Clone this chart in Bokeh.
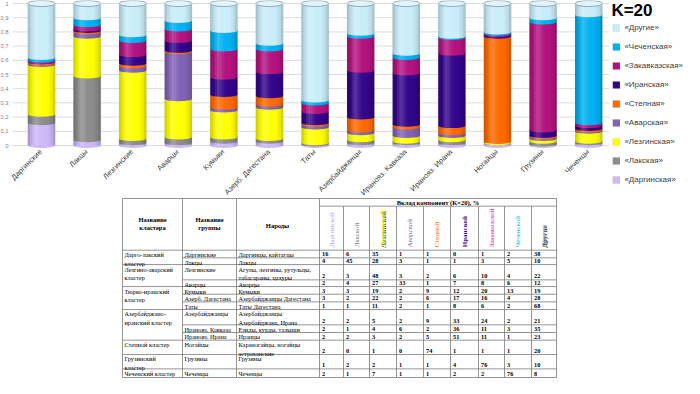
import math
from bokeh.plotting import figure
from bokeh.models import ColumnDataSource, Range1d, Legend, LegendItem
from bokeh.transform import stack, dodge
from bokeh.core.properties import value
from bokeh.embed import file_html
from bokeh.resources import INLINE

# ---------------- data ----------------
groups = ["Даргинские", "Лакцы", "Лезгинские", "Аварцы", "Кумыки", "Азерб. Дагестана", "Таты",
          "Азербайджанцы", "Иранояз. Кавказа", "Иранояз. Ирана", "Ногайцы", "Грузины", "Чеченцы"]
components = ["Даргинская", "Лакская", "Лезгинская", "Аварская", "Степная", "Иранская",
              "Закавказская", "Чеченская", "Другие"]
dargin = [16, 4, 2, 2, 3, 3, 1, 2, 2, 2, 2, 1, 2]
lak = [6, 45, 3, 4, 3, 2, 1, 2, 1, 2, 0, 2, 1]
lezgin = [35, 28, 48, 27, 19, 22, 11, 5, 4, 3, 1, 2, 7]
avar = [1, 3, 3, 33, 2, 2, 2, 2, 6, 2, 0, 1, 1]
stepn = [1, 1, 2, 1, 9, 6, 1, 9, 2, 5, 74, 1, 1]
iran = [0, 1, 6, 7, 12, 17, 8, 33, 36, 51, 1, 4, 2]
zakavk = [1, 3, 10, 8, 20, 16, 6, 24, 11, 11, 1, 76, 2]
chech = [2, 5, 4, 6, 13, 4, 2, 2, 3, 1, 1, 3, 76]
other = [38, 10, 22, 12, 19, 28, 68, 21, 35, 23, 20, 10, 8]
series = [dargin, lak, lezgin, avar, stepn, iran, zakavk, chech, other]

y_ticks = [0, 0.1, 0.2, 0.3, 0.4, 0.5, 0.6, 0.7, 0.8, 0.9, 1]
y_tick_labels = ["0", "0,1", "0,2", "0,3", "0,4", "0,5", "0,6", "0,7", "0,8", "0,9", "1"]

# table texts
clusters = ["Дарго-лакский\nкластер", "Лезгино-аварский\nкластер", "Тюрко-иранский\nкластер",
            "Азербайджано-\nиранский кластер", "Степной кластер", "Грузинский\nкластер",
            "Чеченский кластер"]
cluster_sizes = [2, 2, 3, 3, 1, 1, 1]
peoples = ["Даргинцы, кайтагцы", "Лакцы", "Агулы, лезгины, рутульцы,\nтабасараны, цахуры", "Аварцы",
           "Кумыки", "Азербайджанцы Дагестана", "Таты Дагестана", "Азербайджанцы\nАзербайджана, Ирана",
           "Езиды, курды, талыши", "Иранцы", "Караногайцы, ногайцы\nастраханские", "Грузины", "Чеченцы"]
col_headers = ["Даргинской", "Лакской", "Лезгинской", "Аварской", "Степной", "Иранской",
               "Закавказской", "Чеченской", "Другие"]
table_title = "Вклад компонент (K=20), %"
head_cluster = "Название\nкластера"
head_group = "Название\nгруппы"
head_people = "Народы"

# ---------------- styles ----------------
colors = ["#CDB9F7", "#8C8C8C", "#FFFF00", "#8063B5", "#FF6A00", "#33058A",
          "#B3137F", "#00B0F0", "#C9EDFA"]
header_colors = ["#B9A3F2", "#808080", "#E8E800", "#8063B5", "#FF6A00", "#3A0D8C",
                 "#D0209A", "#1AB4F0", "#8497B0"]
SANS = "Liberation Sans"
SERIF = "Liberation Serif"

W, H = 684, 378
FRAME_L = 8                 # page x of frame left
BAR0, STEP = 49.0, 45.6     # page x of first bar, spacing
ZERO, ONE = 153.0, 11.0     # page y of value 0 and 1
ppu = ZERO - ONE
x_start = -(BAR0 - FRAME_L) / STEP
x_end = x_start + W / STEP
y_end = 1 + (ONE - 8) / ppu
y_start = -(8 + H - ZERO) / ppu

# table layout (reference pixel units)
col_x = [130, 190, 244, 327, 351, 377, 404, 431, 458, 486, 512, 539, 564]
y_top, y_sub, y_head = 205, 213, 259
row_bottoms = [267, 274, 290, 297, 305, 313, 321, 337, 345, 353, 368, 383, 392]
row_tops = [y_head] + row_bottoms[:-1]
T_TOP_PAGE, T_BOT_PAGE = 206.0, 385.0
tscale = (T_BOT_PAGE - T_TOP_PAGE) / (392 - 205)
ty_end = 205 - (T_TOP_PAGE - 8) / tscale
ty_start = 205 + (8 + H - T_TOP_PAGE) / tscale

# ---------------- figure ----------------
xs = list(range(len(groups)))
data = {"x": xs}
for name, vals in zip(components, series):
    data[name] = [v / 100 for v in vals]
src = ColumnDataSource(data)

p = figure(width=W, height=H, output_backend="svg", toolbar_location=None,
           x_range=Range1d(x_start, x_end), y_range=Range1d(y_start, y_end),
           x_axis_location=None, y_axis_location=None,
           min_border_left=0, min_border_right=0, min_border_top=0, min_border_bottom=0)
p.extra_x_ranges = {"tx": Range1d(FRAME_L, 8 + W)}
p.extra_y_ranges = {"ty": Range1d(ty_start, ty_end)}
p.outline_line_color = None
p.background_fill_color = "white"
p.grid.visible = False

# y tick labels and grid lines at tick values
lab_x = x_start + (16 - FRAME_L) / STEP
p.text(x=[lab_x] * len(y_ticks), y=y_ticks, text=y_tick_labels, text_align="right",
       text_baseline="middle", text_font=value(SANS), text_font_size="6px", text_color="#7f7f7f")
p.segment(x0=[x_start + 12 / STEP] * len(y_ticks), y0=y_ticks, x1=[12.45] * len(y_ticks),
          y1=y_ticks, line_color="#dcdcdc", line_width=1)

BW = 0.6
bar_renderers = []
for k, name in enumerate(components):
    prev = components[:k]
    bottom = stack(*prev) if prev else 0
    r = p.vbar(x="x", width=BW, bottom=bottom, top=stack(*prev, name), source=src,
               fill_color=colors[k], line_color="#8a8a8a", line_width=0.4, line_alpha=0.35)
    bar_renderers.append(r)
    p.ellipse(x="x", y=bottom, width=BW, height=5, height_units="screen", source=src,
              fill_color=colors[k], line_color=None)

# cylinder shading strips
n_strips = 12
dark = [0.16, 0.08, 0.03, 0, 0, 0, 0, 0, 0, 0.03, 0.08, 0.16]
light = [0, 0, 0.10, 0.18, 0.14, 0.07, 0.02, 0, 0, 0, 0, 0]
sw = BW / n_strips
for i in range(n_strips):
    off = -BW / 2 + sw * (i + 0.5)
    if dark[i] > 0:
        p.vbar(x=dodge("x", off), width=sw * 1.02, bottom=0, top=stack(*components), source=src,
               fill_color="black", fill_alpha=dark[i], line_color=None)
    if light[i] > 0:
        p.vbar(x=dodge("x", off), width=sw * 1.02, bottom=0, top=stack(*components), source=src,
               fill_color="white", fill_alpha=light[i], line_color=None)

# top cap
p.ellipse(x="x", y=stack(*components), width=BW, height=6, height_units="screen", source=src,
          fill_color="#E3F5FC", line_color="#8FA9B7", line_width=1)

# category labels under the bars
p.text(x=dodge("x", -0.02), y=-0.035, text="g", source=ColumnDataSource({"x": xs, "g": groups}),
       angle=math.pi / 4, text_align="right", text_baseline="middle",
       text_font=value(SANS), text_font_size="7.5px", text_color="#404040")

items = [LegendItem(label="«" + components[k] + "»", renderers=[bar_renderers[k]])
         for k in range(len(components) - 1, -1, -1)]
legend = Legend(items=items, title="K=20", title_text_font=SANS, title_text_font_size="17px",
                title_text_font_style="bold", title_text_color="black", title_standoff=1,
                label_text_font=SANS, label_text_font_size="8px", label_text_color="#404040",
                glyph_width=9, glyph_height=9, label_height=10, label_standoff=4,
                spacing=9, padding=1, margin=0, border_line_alpha=0,
                background_fill_alpha=0, location="top_right")
p.add_layout(legend)

# ---------------- table ----------------
TR = dict(x_range_name="tx", y_range_name="ty")
lc = "#7a7a7a"
x0s, y0s, x1s, y1s = [], [], [], []
def seg(a, b, c, d):
    x0s.append(a); y0s.append(b); x1s.append(c); y1s.append(d)

seg(col_x[0], y_top, col_x[-1], y_top)
seg(col_x[3], y_sub, col_x[-1], y_sub)
seg(col_x[0], y_head, col_x[-1], y_head)
ends = []
acc = 0
for s in cluster_sizes:
    acc += s
    ends.append(acc - 1)
for i, yb in enumerate(row_bottoms):
    seg(col_x[0] if i in ends else col_x[1], yb, col_x[-1], yb)
for j, xv in enumerate(col_x):
    if 3 < j < len(col_x) - 1:
        seg(xv, y_sub, xv, row_bottoms[-1])
    else:
        seg(xv, y_top, xv, row_bottoms[-1])
p.segment(x0=x0s, y0=y0s, x1=x1s, y1=y1s, line_color=lc, line_width=0.8, **TR)

FS = "6.3px"
p.text(x=[160, 217], y=[231.5, 231.5], text=[head_cluster, head_group], text_font=value(SERIF),
       text_font_size="6.5px", text_font_style="bold", text_align="center", text_baseline="middle",
       text_line_height=1.15, **TR)
p.text(x=[285], y=[233], text=[head_people], text_font=value(SERIF), text_font_size="6.5px",
       text_font_style="bold", text_align="center", text_baseline="middle", **TR)
p.text(x=[(col_x[3] + col_x[-1]) / 2], y=[209], text=[table_title], text_font=value(SERIF),
       text_font_size="6.5px", text_font_style="bold", text_align="center", text_baseline="middle",
       **TR)

cx = [(col_x[3 + j] + col_x[4 + j]) / 2 for j in range(len(col_headers))]
for j, h in enumerate(col_headers):
    bold = "bold" if j in (2, 5, 8) else "normal"
    if j in (2, 8):
        p.text(x=[cx[j] + 0.6], y=[256.6], text=[h], angle=math.pi / 2, text_font=value(SERIF),
               text_font_size="7px", text_font_style=bold, text_color="#303030",
               text_align="left", text_baseline="middle", **TR)
    p.text(x=[cx[j]], y=[256], text=[h], angle=math.pi / 2, text_font=value(SERIF),
           text_font_size="7px", text_font_style=bold, text_color=header_colors[j],
           text_align="left", text_baseline="middle", **TR)

cl_y = []
r = 0
for s in cluster_sizes:
    cl_y.append(row_tops[r] + 1)
    r += s
p.text(x=[col_x[0] + 2] * len(clusters), y=cl_y, text=clusters, text_font=value(SERIF),
       text_font_size=FS, text_baseline="top", text_line_height=1.2, **TR)
p.text(x=[col_x[1] + 2] * len(groups), y=[yt + 1 for yt in row_tops], text=groups,
       text_font=value(SERIF), text_font_size=FS, text_baseline="top", **TR)
p.text(x=[col_x[2] + 2] * len(peoples), y=[yt + 1 for yt in row_tops], text=peoples,
       text_font=value(SERIF), text_font_size=FS, text_baseline="top", text_line_height=1.2, **TR)

nx, ny, nt = [], [], []
for i in range(len(groups)):
    for j in range(len(series)):
        nx.append(col_x[3 + j] + 2.5)
        ny.append(row_bottoms[i] - 3.8)
        nt.append(str(series[j][i]))
p.text(x=nx, y=ny, text=nt, text_font=value(SERIF), text_font_size="6.3px",
       text_font_style="bold", text_baseline="middle", **TR)

open("out.html", "w").write(file_html(p, INLINE))
